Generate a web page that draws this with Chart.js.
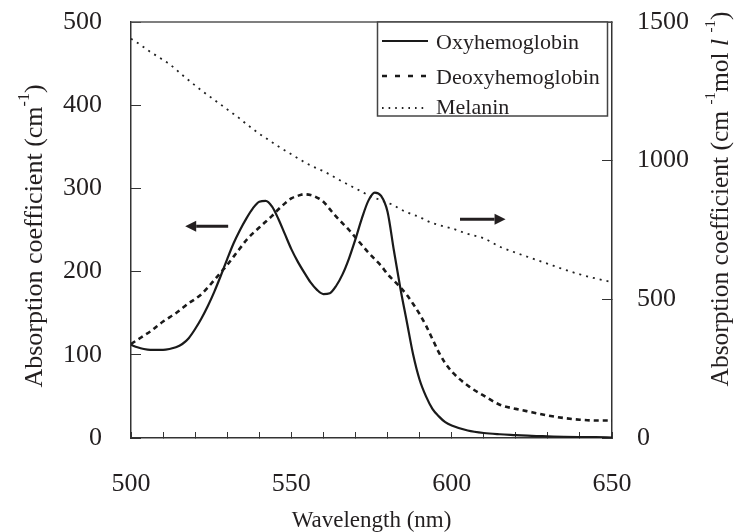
<!DOCTYPE html>
<html><head><meta charset="utf-8">
<script src="https://cdn.jsdelivr.net/npm/chart.js@4.4.1/dist/chart.umd.min.js"></script>
<style>html,body{margin:0;padding:0;background:#fff;}canvas{display:block;}</style>
</head><body>
<canvas id="c" width="734" height="532" style="width:734px;height:532px"></canvas>
<script>
const wavelengths = [500,502,504,506,508,510,512,514,516,518,520,522,524,526,528,530,532,534,536,538,540,542,544,546,548,550,552,554,556,558,560,562,564,566,568,570,572,574,576,578,580,582,584,586,588,590,592,594,596,598,600,605,610,615,620,625,630,635,640,645,650];
const oxyhemoglobin = [112,109,107,106,106,106,107,109,113,120,131,144,159,176,195,215,234,250,264,276,284,285,278,263,245,227,212,199,187,178,173,174,183,197,216,239,264,285,295,291,272,225,180,140,100,70,50,35,26,19,15,9,6,4.5,3.5,2.5,2,1.5,1.2,1,0.5];
const deoxyhemoglobin = [113,118,123,128,134,140,145,150,156,162,167,173,181,190,199,208,218,228,238,246,253,260,267,275,282,288,291,293,292,289,284,275,266,258,250,241,232,223,215,207,197,189,181,172,161,149,135,119,103,90,80,63,51,40,35,31,27,24,22,21,21];
const melanin = [1440,1425,1409,1392,1378,1363,1348,1329,1309,1290,1271,1253,1236,1219,1202,1185,1168,1151,1132,1114,1097,1082,1066,1051,1037,1023,1009,995,983,972,962,950,937,924,912,900,888,876,866,857,848,839,825,814,805,797,785,775,768,762,756,736,720,690,668,648,628,608,590,575,562];
const seriesLabels = ['Oxyhemoglobin','Deoxyhemoglobin','Melanin'];
const xTickLabels = [500,550,600,650];
const leftTickLabels = [0,100,200,300,400,500];
const rightTickLabels = [0,500,1000,1500];
// arrow annotations in data coordinates (wavelength, left-axis value)
const arrowLeft = {from:530.3, to:516.9, y:254.6};
const arrowRight = {from:602.6, to:616.8, y:263};

const SERIF = '"Liberation Serif","Times New Roman",serif';
const INK = '#231f20';

const styles = [
  {borderColor:'#1a1a1a', borderWidth:2.2, borderDash:[], legendDash:[]},
  {borderColor:'#1a1a1a', borderWidth:2.6, borderDash:[5,4], legendDash:[5,8]},
  {borderColor:'#222222', borderWidth:1.8, borderDash:[2,5], legendDash:[1.6,5]}
];
const seriesValues = [oxyhemoglobin, deoxyhemoglobin, melanin];

const datasets = seriesValues.map((vals,i)=>({
  label: seriesLabels[i],
  data: wavelengths.map((w,k)=>({x:w,y:vals[k]})),
  yAxisID: i===2 ? 'y1' : 'y',
  borderColor: styles[i].borderColor,
  borderWidth: styles[i].borderWidth,
  borderDash: styles[i].borderDash,
  pointRadius: 0,
  fill: false,
  cubicInterpolationMode: 'monotone'
}));

function drawRichRotated(ctx, parts, cx, cy, size) {
  ctx.save();
  ctx.translate(cx, cy);
  ctx.rotate(-Math.PI/2);
  ctx.fillStyle = INK;
  ctx.textBaseline = 'middle';
  ctx.textAlign = 'left';
  const supSize = Math.round(size*0.6);
  let total = 0;
  const widths = parts.map(p=>{
    ctx.font = (p.italic?'italic ':'') + (p.sup?supSize:size) + 'px ' + SERIF;
    const w = ctx.measureText(p.t).width;
    total += w; return w;
  });
  let x = -total/2;
  parts.forEach((p,i)=>{
    ctx.font = (p.italic?'italic ':'') + (p.sup?supSize:size) + 'px ' + SERIF;
    ctx.fillText(p.t, x, p.sup ? -size*0.38 : 0);
    x += widths[i];
  });
  ctx.restore();
}

function arrow(ctx, x1, x2, y) {
  const dir = Math.sign(x2-x1);
  const head = 11;
  ctx.save();
  ctx.strokeStyle = INK; ctx.fillStyle = INK; ctx.lineWidth = 3;
  ctx.beginPath(); ctx.moveTo(x1, y); ctx.lineTo(x2 - dir*head, y); ctx.stroke();
  ctx.beginPath(); ctx.moveTo(x2, y); ctx.lineTo(x2 - dir*head, y-5.5); ctx.lineTo(x2 - dir*head, y+5.5); ctx.closePath(); ctx.fill();
  ctx.restore();
}

const decorPlugin = {
  id: 'decor',
  afterDraw(chart) {
    const {ctx, chartArea:a, scales} = chart;
    ctx.save();
    ctx.strokeStyle = '#555'; ctx.lineWidth = 1.5;
    ctx.beginPath(); ctx.moveTo(a.left, a.top); ctx.lineTo(a.right, a.top); ctx.stroke();
    ctx.restore();
    const xs = scales.x, ys = scales.y;
    arrow(ctx, xs.getPixelForValue(arrowLeft.from), xs.getPixelForValue(arrowLeft.to), ys.getPixelForValue(arrowLeft.y));
    arrow(ctx, xs.getPixelForValue(arrowRight.from), xs.getPixelForValue(arrowRight.to), ys.getPixelForValue(arrowRight.y));
    const lx = 377.5, ly = a.top, lw = 230, lh = 94;
    ctx.save();
    ctx.fillStyle = '#fff';
    ctx.fillRect(lx, ly, lw, lh);
    ctx.strokeStyle = '#444'; ctx.lineWidth = 1.5;
    ctx.strokeRect(lx, ly, lw, lh);
    const rows = [41, 76, 108];
    const textRows = [43, 78, 108];
    datasets.forEach((d,i)=>{
      ctx.strokeStyle = styles[i].borderColor;
      ctx.lineWidth = styles[i].borderWidth;
      ctx.setLineDash(styles[i].legendDash);
      ctx.beginPath(); ctx.moveTo(382, rows[i]); ctx.lineTo(428, rows[i]); ctx.stroke();
      ctx.setLineDash([]);
      ctx.fillStyle = INK;
      ctx.font = '22px ' + SERIF;
      ctx.textBaseline = 'middle';
      ctx.textAlign = 'left';
      ctx.fillText(d.label, 436, textRows[i]);
    });
    ctx.restore();
    drawRichRotated(ctx, [{t:'Absorption coefficient (cm'},{t:'-1',sup:true},{t:')'}], 35, 236, 26);
    drawRichRotated(ctx, [{t:'Absorption coefficient (cm '},{t:'-1',sup:true},{t:'mol '},{t:'l',italic:true},{t:' '},{t:'-1',sup:true},{t:')'}], 721, 199, 25.5);
  }
};

const tickFont = {family: SERIF, size: 26};
const noPad = s => { s.paddingTop = 0; s.paddingBottom = 0; s.paddingLeft = 0; s.paddingRight = 0; };

new Chart(document.getElementById('c'), {
  type: 'line',
  data: {datasets},
  options: {
    responsive: false,
    devicePixelRatio: 1,
    animation: false,
    layout: {padding: {top: 22, left: 0, right: 0, bottom: 0}},
    plugins: {legend: {display: false}, tooltip: {enabled: false}},
    scales: {
      x: {
        type: 'linear', position: 'bottom', min: 500, max: 650,
        ticks: {stepSize: 10, autoSkip: false, maxRotation: 0, color: INK, font: tickFont, padding: 37,
          callback: v => xTickLabels.includes(v) ? String(v) : ''},
        grid: {drawOnChartArea: false, drawTicks: true, tickLength: -6, color: '#333', lineWidth: 1},
        border: {display: true, color: '#333', width: 1.5},
        title: {display: true, text: 'Wavelength (nm)', color: INK, font: {family: SERIF, size: 23}, padding: {top: 0, bottom: -3}},
        afterFit: s => { s.height = 94; noPad(s); }
      },
      y: {
        type: 'linear', position: 'left', min: 0, max: 500,
        ticks: {stepSize: 100, color: INK, font: tickFont, padding: 39,
          callback: v => leftTickLabels.includes(v) ? String(v) : ''},
        grid: {drawOnChartArea: false, drawTicks: true, tickLength: -10, color: '#333', lineWidth: 1},
        border: {display: true, color: '#333', width: 1.5},
        afterFit: s => { s.width = 131; noPad(s); }
      },
      y1: {
        type: 'linear', position: 'right', min: 0, max: 1500,
        ticks: {stepSize: 500, color: INK, font: tickFont, padding: 35,
          callback: v => rightTickLabels.includes(v) ? String(v) : ''},
        grid: {drawOnChartArea: false, drawTicks: true, tickLength: -10, color: '#333', lineWidth: 1},
        border: {display: true, color: '#333', width: 1.5},
        afterFit: s => { s.width = 122; noPad(s); }
      }
    }
  },
  plugins: [decorPlugin]
});
</script>
</body></html>
